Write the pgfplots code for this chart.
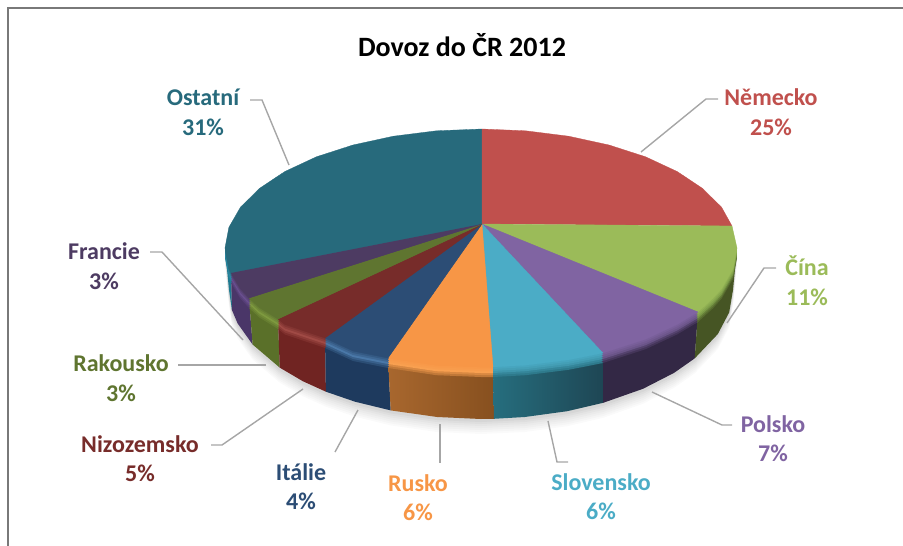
\documentclass[border=0pt]{standalone}
\usepackage{fontspec}
\setmainfont{Carlito}
\usepackage{pgfplots}
\usepackage{pgfplotstable}
\pgfplotsset{compat=1.18}

% colours of the top faces
\definecolor{cOst}{HTML}{276A7C}
\definecolor{cNem}{HTML}{C0504D}
\definecolor{cCin}{HTML}{9BBB59}
\definecolor{cPol}{HTML}{8064A2}
\definecolor{cSlo}{HTML}{4BACC6}
\definecolor{cRus}{HTML}{F79646}
\definecolor{cIta}{HTML}{2C4D75}
\definecolor{cNiz}{HTML}{772C2A}
\definecolor{cRak}{HTML}{5F7530}
\definecolor{cFra}{HTML}{4D3B62}
% colours of the sides
\definecolor{sOst}{HTML}{1F7A90}
\definecolor{sCin}{HTML}{465524}
\definecolor{sPol}{HTML}{332845}
\definecolor{sSloA}{HTML}{266E7E}
\definecolor{sSloB}{HTML}{1E4654}
\definecolor{sRusA}{HTML}{A8672E}
\definecolor{sRusB}{HTML}{87501F}
\definecolor{sIta}{HTML}{1E3A5E}
\definecolor{sNiz}{HTML}{702422}
\definecolor{sRak}{HTML}{5A7029}
\definecolor{sFra}{HTML}{4A3668}
% highlight on the rim
\definecolor{hOst}{HTML}{2A8BA5}
\definecolor{hCin}{HTML}{7A9A46}
\definecolor{hPol}{HTML}{6A5488}
\definecolor{hSlo}{HTML}{3F96AC}
\definecolor{hRus}{HTML}{F9A050}
\definecolor{hIta}{HTML}{4A78A8}
\definecolor{hNiz}{HTML}{A04A45}
\definecolor{hRak}{HTML}{7E9A3F}
\definecolor{hFra}{HTML}{6A4F90}
\definecolor{leader}{HTML}{A6A6A6}

% pie slices, top face, in pixels of the reference
\pgfplotstableread{
x y
482 224
231 273
228.9 268.7
225 248
228.9 227.3
240.4 207.3
259.3 188.5
284.9 171.5
316.4 156.8
353 145
393.4 136.2
436.5 130.8
482 129
}\tOst
\pgfplotstableread{
x y
482 224
482 129
525.5 130.8
568.6 136.2
609 145
645.6 156.8
677.1 171.5
702.7 188.5
721.6 207.3
732 226
}\tNem
\pgfplotstableread{
x y
482 224
732 226
737 248
733.1 268.7
721.6 288.7
713 298.3
698 312
}\tCin
\pgfplotstableread{
x y
482 224
698 312
677.1 324.5
645.6 339.2
603 353
}\tPol
\pgfplotstableread{
x y
482 224
603 353
568.6 359.8
525.5 365.2
493 367
}\tSlo
\pgfplotstableread{
x y
482 224
493 367
481 367
436.5 365.2
388 358
}\tRus
\pgfplotstableread{
x y
482 224
388 358
353 351
325 338
}\tIta
\pgfplotstableread{
x y
482 224
325 338
284.9 324.5
278 319
}\tNiz
\pgfplotstableread{
x y
482 224
278 319
259.3 307.5
249 298
}\tRak
\pgfplotstableread{
x y
482 224
249 298
240.4 288.7
231 273
}\tFra

% lower outline for the drop shadow
\pgfplotstableread{
x y
737 248
733 290
729.2 312.4
717.8 334.1
694.7 358.4
674 372.9
643 388.8
603.2 402.8
567.2 411.2
524.8 417
481 419
437.2 417
390.7 410.4
355 401.7
325.9 391.7
302.8 381.2
279.7 367.6
252.6 344.5
237.6 323.4
232 310.2
229 290
225 248
}\tShadow

\newcommand{\rim}[4]{%
  \addplot[draw=none, fill=#3!70!#4, yshift=-10pt] table {#1};
  \addplot[draw=none, fill=#4!60!#3, yshift=-8pt] table {#1};
  \addplot[draw=none, fill=#4, yshift=-6pt] table {#1};
  \addplot[draw=none, fill=#4!60!#2, yshift=-4pt] table {#1};
  \addplot[draw=none, fill=#4!30!#2, yshift=-2pt] table {#1};
}
\newcommand{\face}[2]{%
  \addplot[draw=#2, line width=0.3pt, fill=#2] table {#1};
}
\newcommand{\lab}[6]{%
  \node[text=#1, font=\fontsize{24}{28}\selectfont\bfseries] at (axis cs:#2,#3) {#4};
  \node[text=#1, font=\fontsize{24}{28}\selectfont\bfseries] at (axis cs:#2,#5) {#6};
}

\begin{document}
\begin{tikzpicture}
\begin{axis}[
  scale only axis, width=903pt, height=546pt,
  xmin=0, xmax=903, ymin=0, ymax=546, y dir=reverse,
  hide axis, no markers,
]
  % keeps the whole canvas in the page
  \addplot[draw=none] coordinates {(0,0) (903,546)};

  % frame
  \addplot[draw=gray!95!black, line width=1.3pt] coordinates {(8,546) (8,8) (903,8)};

  % drop shadow
  \addplot[draw=none, fill=black!2, yshift=-15pt] table {\tShadow};
  \addplot[draw=none, fill=black!4, yshift=-13pt] table {\tShadow};
  \addplot[draw=none, fill=black!6, yshift=-11pt] table {\tShadow};
  \addplot[draw=none, fill=black!8, yshift=-9pt] table {\tShadow};
  \addplot[draw=none, fill=black!10, yshift=-7pt] table {\tShadow};
  \addplot[draw=none, fill=black!13, yshift=-5pt] table {\tShadow};
  \addplot[draw=none, fill=black!16, yshift=-3pt] table {\tShadow};

  % sides
  \addplot[draw=none, fill=sOst] coordinates {(231,273) (228.9,268.7) (225,248) (229,290) (232,310.2)};
  \addplot[draw=none, fill=sFra] coordinates {(249,298) (240.4,288.7) (231,273) (232,310.2) (237.6,323.4) (252.6,344.5)};
  \addplot[draw=none, fill=sRak] coordinates {(278,319) (259.3,307.5) (249,298) (252.6,344.5) (279.7,367.6)};
  \addplot[draw=none, fill=sNiz] coordinates {(325,338) (284.9,324.5) (278,319) (279.7,367.6) (302.8,381.2) (325.9,391.7)};
  \addplot[draw=none, fill=sIta] coordinates {(388,358) (353,351) (325,338) (325.9,391.7) (355,401.7) (390.7,410.4)};
  \addplot[draw=none, left color=sRusA, right color=sRusB] coordinates {(493,367) (481,367) (436.5,365.2) (388,358) (390.7,410.4) (437.2,417) (481,419) (494,418.8)};
  \addplot[draw=none, left color=sSloA, right color=sSloB] coordinates {(603,353) (568.6,359.8) (525.5,365.2) (493,367) (494,418.8) (524.8,417) (567.2,411.2) (603.2,402.8)};
  \addplot[draw=none, fill=sPol] coordinates {(698,312) (677.1,324.5) (645.6,339.2) (603,353) (603.2,402.8) (643,388.8) (674,372.9) (694.7,358.4)};
  \addplot[draw=none, fill=sCin] coordinates {(737,248) (733.1,268.7) (721.6,288.7) (713,298.3) (698,312) (694.7,358.4) (717.8,334.1) (729.2,312.4) (733,290)};

  % bevel along the rim, outer slices first
  \rim{\tOst}{cOst}{sOst}{hOst}
  \rim{\tFra}{cFra}{sFra}{hFra}
  \rim{\tRak}{cRak}{sRak}{hRak}
  \rim{\tNiz}{cNiz}{sNiz}{hNiz}
  \rim{\tIta}{cIta}{sIta}{hIta}
  \rim{\tCin}{cCin}{sCin}{hCin}
  \rim{\tPol}{cPol}{sPol}{hPol}
  \rim{\tSlo}{cSlo}{sSloA}{hSlo}
  \rim{\tRus}{cRus}{sRusA}{hRus}

  % top faces
  \face{\tOst}{cOst}
  \face{\tNem}{cNem}
  \face{\tCin}{cCin}
  \face{\tPol}{cPol}
  \face{\tSlo}{cSlo}
  \face{\tRus}{cRus}
  \face{\tIta}{cIta}
  \face{\tNiz}{cNiz}
  \face{\tRak}{cRak}
  \face{\tFra}{cFra}

  % leader lines
  \addplot[draw=leader, line width=1.4pt] coordinates {(250,100) (262,100) (289,165)};
  \addplot[draw=leader, line width=1.4pt] coordinates {(718,99) (706,99) (641,152)};
  \addplot[draw=leader, line width=1.4pt] coordinates {(776,268) (764,268) (727,323)};
  \addplot[draw=leader, line width=1.4pt] coordinates {(732,425) (722,425) (652,392)};
  \addplot[draw=leader, line width=1.4pt] coordinates {(568,462) (557,462) (548,421)};
  \addplot[draw=leader, line width=1.4pt] coordinates {(440,424) (440,463)};
  \addplot[draw=leader, line width=1.4pt] coordinates {(358,410) (335,452)};
  \addplot[draw=leader, line width=1.4pt] coordinates {(303,389) (222,445) (211,445)};
  \addplot[draw=leader, line width=1.4pt] coordinates {(266,365) (178,365)};
  \addplot[draw=leader, line width=1.4pt] coordinates {(150,252) (162,252) (243,340)};

  % title and labels
  \node[font=\fontsize{28}{32}\selectfont\bfseries] at (axis cs:462,45) {Dovoz do ČR 2012};
  \lab{cOst}{203}{97}{Ostatní}{127}{31\%}
  \lab{cNem}{771}{97}{Německo}{127}{25\%}
  \lab{cCin}{807}{266}{Čína}{297}{11\%}
  \lab{cPol}{773}{424}{Polsko}{453}{7\%}
  \lab{cSlo}{601}{482}{Slovensko}{511}{6\%}
  \lab{cRus}{418}{483}{Rusko}{512}{6\%}
  \lab{cIta}{301}{472}{Itálie}{501}{4\%}
  \lab{cNiz}{140}{444}{Nizozemsko}{473}{5\%}
  \lab{cRak}{121}{363}{Rakousko}{393}{3\%}
  \lab{cFra}{104}{251}{Francie}{281}{3\%}
\end{axis}
\end{tikzpicture}
\end{document}
